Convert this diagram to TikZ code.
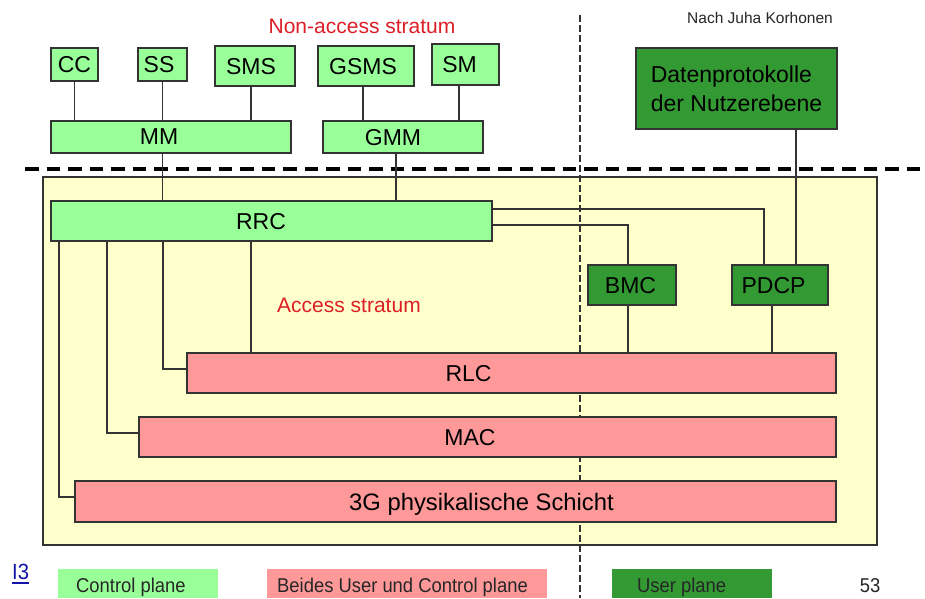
\documentclass[tikz,border=0pt]{standalone}
\usepackage{fontspec}
\setmainfont{Liberation Sans}
\newfontfamily\legendfont[FakeStretch=0.92]{Liberation Sans}
\definecolor{ctrlgreen}{RGB}{153,255,153}
\definecolor{bothred}{RGB}{255,153,153}
\definecolor{usergreen}{RGB}{51,153,51}
\definecolor{asyellow}{RGB}{255,255,204}
\definecolor{edge}{RGB}{51,51,51}
\definecolor{stratumred}{RGB}{220,30,40}
\definecolor{linkblue}{RGB}{20,20,170}
\begin{document}
\begin{tikzpicture}[x=1pt,y=-1pt,
  box/.style={draw=edge, line width=1.4pt, inner sep=0pt},
  ctrl/.style={box, fill=ctrlgreen},
  both/.style={box, fill=bothred},
  user/.style={box, fill=usergreen},
  lbl/.style={font=\fontsize{23}{29}\selectfont, text=black, inner sep=0pt, text depth=0pt},
  wire/.style={draw=edge, line width=1.2pt},
  swatch/.style={inner sep=0pt, anchor=north west, minimum height=29pt},
  legtext/.style={font=\legendfont\fontsize{20}{24}\selectfont, text=black!85,
    anchor=base west, inner sep=0pt},
  stratum/.style={font=\fontsize{21}{25}\selectfont, text=stratumred,
    anchor=base, inner sep=0pt},
]
% page
\fill[white] (0,0) rectangle (925,598);
\useasboundingbox (0,0) rectangle (925,598);

% access stratum area
\node[draw=edge, line width=1.4pt, fill=asyellow, inner sep=0pt,
      minimum width=834pt, minimum height=368pt] (as) at (460,361) {};

% boundary between control and user plane
\coordinate (planeT) at (580,15);
\coordinate (planeB) at (580,598);
\draw[edge, line width=1.1pt, dash pattern=on 7pt off 3pt] (planeT) -- (planeB);

% boundary between non-access and access stratum
\coordinate (sepL) at (25,169);
\coordinate (sepR) at (925,169);
\draw[black, line width=4.5pt, dash pattern=on 13.5pt off 8pt] (sepL) -- (sepR);

% captions
\node[stratum] (nas) at (362,33) {Non-access stratum};
\node[stratum] (acs) at (349,312) {Access stratum};
\node[font=\fontsize{15.5}{18}\selectfont, text=black!85, anchor=base, inner sep=0pt]
  (credit) at (760,23) {Nach Juha Korhonen};

% non-access stratum protocols
\node[ctrl, minimum width=47pt, minimum height=33pt] (cc)   at (74.5,64.5) {};
\node[ctrl, minimum width=49pt, minimum height=33pt] (ss)   at (162.5,64.5) {};
\node[ctrl, minimum width=80pt, minimum height=40pt] (sms)  at (255,66) {};
\node[ctrl, minimum width=96pt, minimum height=40pt] (gsms) at (366,66) {};
\node[ctrl, minimum width=67pt, minimum height=41pt] (sm)   at (465.5,64.5) {};
\node[ctrl, minimum width=240pt, minimum height=32pt] (mm)  at (171,137) {};
\node[ctrl, minimum width=160pt, minimum height=32pt] (gmm) at (403,137) {};
\node[user, minimum width=201pt, minimum height=81pt, align=left,
      font=\fontsize{23}{29}\selectfont, text=black] (daten) at (736.5,88.5)
  {Datenprotokolle\\der Nutzerebene};

% access stratum protocols
\node[ctrl, minimum width=441pt, minimum height=40pt] (rrc)  at (271.5,221) {};
\node[user, minimum width=88pt, minimum height=40pt]  (bmc)  at (632,285) {};
\node[user, minimum width=96pt, minimum height=40pt]  (pdcp) at (780,285) {};
\node[both, minimum width=649pt, minimum height=40pt] (rlc)  at (511.5,373) {};
\node[both, minimum width=697pt, minimum height=40pt] (mac)  at (487.5,437) {};
\node[both, minimum width=761pt, minimum height=41pt] (phy)  at (455.5,501.5) {};

% protocol names
\node[lbl] (ccT)   at (cc.center) {CC};
\node[lbl] (ssT)   at ([xshift=-3.5pt]ss.center) {SS};
\node[lbl] (smsT)  at ([xshift=-4pt]sms.center) {SMS};
\node[lbl] (gsmsT) at ([xshift=-3pt]gsms.center) {GSMS};
\node[lbl] (smT)   at ([xshift=-6pt]sm.center) {SM};
\node[lbl] (mmT)   at ([xshift=-12pt]mm.center) {MM};
\node[lbl] (gmmT)  at ([xshift=-10pt]gmm.center) {GMM};
\node[lbl] (rrcT)  at ([xshift=-10.5pt]rrc.center) {RRC};
\node[lbl] (bmcT)  at ([xshift=-1.5pt]bmc.center) {BMC};
\node[lbl] (pdcpT) at ([xshift=-6.5pt]pdcp.center) {PDCP};
\node[lbl] (rlcT)  at ([xshift=-43pt]rlc.center) {RLC};
\node[lbl] (macT)  at ([xshift=-17.5pt]mac.center) {MAC};
\node[lbl, font=\fontsize{23.8}{29}\selectfont] (phyT) at ([xshift=26pt]phy.center)
  {3G physikalische Schicht};

% tap points
\coordinate (tSMS)  at ([xshift=-4pt]sms.south);
\coordinate (tGSMS) at ([xshift=-3pt]gsms.south);
\coordinate (tSM)   at ([xshift=-6.5pt]sm.south);
\coordinate (tGMM)  at ([xshift=-7pt]gmm.south);
\coordinate (tRlcA) at ([xshift=-20.5pt]rrc.south);
\coordinate (tRlcB) at ([xshift=-108.5pt]rrc.south);
\coordinate (tMac)  at ([xshift=-164.5pt]rrc.south);
\coordinate (tPhy)  at ([xshift=-212.5pt]rrc.south);
\coordinate (tDat)  at ([xshift=16pt]pdcp.north);
\coordinate (tBmc)  at ([xshift=-4pt]bmc.south);
\coordinate (tPdcp) at ([xshift=-8pt]pdcp.south);

% connectors
\draw[wire] (cc.south) -- (cc.south |- mm.north);
\draw[wire] (ss.south) -- (ss.south |- mm.north);
\draw[wire] (tSMS) -- (tSMS |- mm.north);
\draw[wire] (tGSMS) -- (tGSMS |- gmm.north);
\draw[wire] (tSM) -- (tSM |- gmm.north);
\draw[wire] (mm.south -| ss.south) -- (rrc.north -| ss.south);
\draw[wire] (tGMM) -- (tGMM |- rrc.north);
\draw[wire] ([yshift=12pt]rrc.east) -| ([xshift=-16pt]pdcp.north);
\draw[wire] ([yshift=-4pt]rrc.east) -| ([xshift=-4pt]bmc.north);
\draw[wire] (tDat |- daten.south) -- (tDat);
\draw[wire] (tBmc) -- (tBmc |- rlc.north);
\draw[wire] (tPdcp) -- (tPdcp |- rlc.north);
\draw[wire] (tRlcA) -- (tRlcA |- rlc.north);
\draw[wire] (tRlcB) |- ([yshift=4pt]rlc.west);
\draw[wire] (tMac) |- ([yshift=4pt]mac.west);
\draw[wire] (tPhy) |- ([yshift=4.5pt]phy.west);

% legend
\node[swatch, fill=ctrlgreen, minimum width=160pt] (lgc) at (58,569) {};
\node[swatch, fill=bothred, minimum width=280pt]   (lgb) at (267,569) {};
\node[swatch, fill=usergreen, minimum width=160pt] (lgu) at (612,569) {};
\node[legtext] (lgct) at (76,592) {Control plane};
\node[legtext] (lgbt) at (277,592) {Beides User und Control plane};
\node[legtext] (lgut) at (637,592) {User plane};
\node[legtext, anchor=base] (pageno) at (870,592) {53};
\node[legtext, text=linkblue, font=\legendfont\fontsize{22}{26}\selectfont] (ref) at (12,579) {I3};
\draw[linkblue, line width=1.2pt] ([yshift=-4pt]ref.base west) -- ([yshift=-4pt]ref.base east);
\end{tikzpicture}
\end{document}
